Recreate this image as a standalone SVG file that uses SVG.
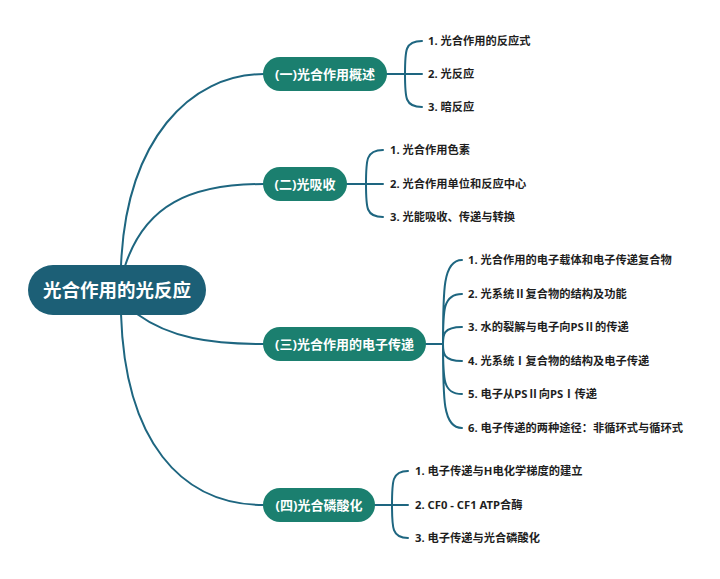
<svg xmlns="http://www.w3.org/2000/svg" width="720" height="579" viewBox="0 0 720 579">
<style>
.bg{fill:#ffffff}
.root{fill:#1c5f76}
.br{fill:#1b7f6f}
.rt{fill:#ffffff;font-family:"Noto Sans","Noto Sans CJK SC",sans-serif;font-weight:bold;font-size:18.5px}
.bt{fill:#ffffff;font-family:"Noto Sans","Noto Sans CJK SC",sans-serif;font-weight:bold;font-size:13px}
.lt{fill:#1e1e1e;font-family:"Noto Sans","Noto Sans CJK SC",sans-serif;font-weight:bold;font-size:11.25px}
.cj{font-family:"Noto Sans CJK SC",sans-serif}
.ln{fill:none;stroke:#1e6680;stroke-width:2;stroke-linecap:round}
</style>
<rect class="bg" x="0" y="0" width="720" height="579"/>
<g id="connectors">
<path class="ln" d="M121,266 C126,140 190,74 264,74"/>
<path class="ln" d="M125,266 C145,205 190,184 264,184"/>
<path class="ln" d="M137,314 C170,338 210,344 264,344"/>
<path class="ln" d="M121,314 C125,440 180,505 264,505"/>
<path class="ln" d="M387,74 H405 M405,74 C405,50 405,41 422,41 M405,74 H422 M405,74 C405,98 405,107 422,107"/>
<path class="ln" d="M347,184 H366 M366,184 C366,160 366,150 383,150 M366,184 H383 M366,184 C366,208 366,217 383,217"/>
<path class="ln" d="M426,344 H443 M443,344 C443,290 443,260 462,260 M443,344 C443,310 443,294 462,294 M443,344 C443,335 443,327 462,327 M443,344 C443,353 443,361 462,361 M443,344 C443,380 443,394 462,394 M443,344 C443,400 443,428 462,428"/>
<path class="ln" d="M375,505 H392 M392,505 C392,481 392,471 408,471 M392,505 H408 M392,505 C392,528 392,538 408,538"/>
</g>
<g id="root">
<rect class="root" x="28" y="265" width="178" height="50" rx="25"/>
<text class="rt" x="117" y="297" text-anchor="middle">光合作用的光反应</text>
</g>
<g id="b1">
<rect class="br" x="263" y="57" width="124" height="34" rx="17"/>
<text class="bt" x="325" y="79" text-anchor="middle">(一)光合作用概述</text>
</g>
<g id="b2">
<rect class="br" x="263" y="167" width="84" height="34" rx="17"/>
<text class="bt" x="305" y="189" text-anchor="middle">(二)光吸收</text>
</g>
<g id="b3">
<rect class="br" x="263" y="327" width="163" height="34" rx="17"/>
<text class="bt" x="344.5" y="349" text-anchor="middle">(三)光合作用的电子传递</text>
</g>
<g id="b4">
<rect class="br" x="263" y="488" width="112" height="34" rx="17"/>
<text class="bt" x="319" y="510" text-anchor="middle">(四)光合磷酸化</text>
</g>
<g id="l1-1"><text class="lt" x="428" y="45">1. 光合作用的反应式</text></g>
<g id="l1-2"><text class="lt" x="428" y="78">2. 光反应</text></g>
<g id="l1-3"><text class="lt" x="428" y="111">3. 暗反应</text></g>
<g id="l2-1"><text class="lt" x="390" y="154">1. 光合作用色素</text></g>
<g id="l2-2"><text class="lt" x="390" y="188">2. 光合作用单位和反应中心</text></g>
<g id="l2-3"><text class="lt" x="390" y="221">3. 光能吸收、传递与转换</text></g>
<g id="l3-1"><text class="lt" x="468" y="264">1. 光合作用的电子载体和电子传递复合物</text></g>
<g id="l3-2"><text class="lt" x="468" y="298">2. 光系统<tspan class="cj">Ⅱ</tspan>复合物的结构及功能</text></g>
<g id="l3-3"><text class="lt" x="468" y="331">3. 水的裂解与电子向PS<tspan class="cj">Ⅱ</tspan>的传递</text></g>
<g id="l3-4"><text class="lt" x="468" y="365">4. 光系统<tspan class="cj">Ⅰ</tspan>复合物的结构及电子传递</text></g>
<g id="l3-5"><text class="lt" x="468" y="398">5. 电子从PS<tspan class="cj">Ⅱ</tspan>向PS<tspan class="cj">Ⅰ</tspan>传递</text></g>
<g id="l3-6"><text class="lt" x="468" y="432">6. 电子传递的两种途径：非循环式与循环式</text></g>
<g id="l4-1"><text class="lt" x="415" y="475">1. 电子传递与H电化学梯度的建立</text></g>
<g id="l4-2"><text class="lt" x="415" y="509">2. CF0 - CF1 ATP合酶</text></g>
<g id="l4-3"><text class="lt" x="415" y="542">3. 电子传递与光合磷酸化</text></g>
</svg>
